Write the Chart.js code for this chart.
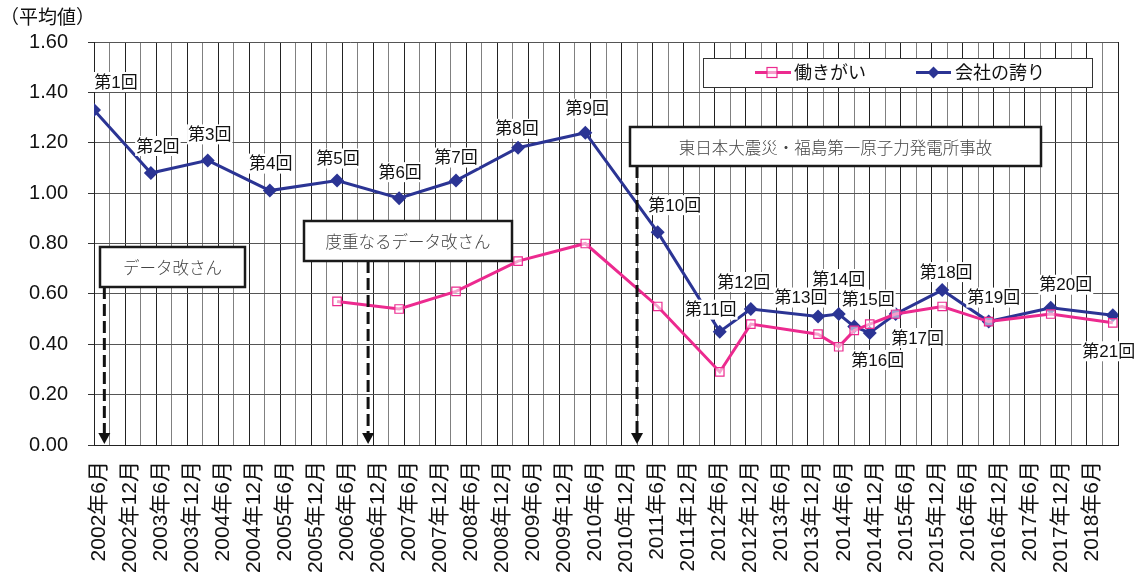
<!DOCTYPE html>
<html>
<head>
<meta charset="utf-8">
<script src="https://cdn.jsdelivr.net/npm/chart.js@4.4.1/dist/chart.umd.min.js"></script>
<style>
  html, body { margin: 0; padding: 0; background: #fff; }
  #wrap { width: 1148px; height: 582px; }
</style>
</head>
<body>
<div id="wrap"><canvas id="c" width="1148" height="582"></canvas></div>
<script>
// Survey timing, in months counted from June 2002
const surveyMonths = [0, 11, 22, 34, 47, 59, 70, 82, 95, 109, 121, 127, 140, 144, 147, 150, 155, 164, 173, 185, 197];
const roundNames = ['第1回','第2回','第3回','第4回','第5回','第6回','第7回','第8回','第9回','第10回','第11回',
  '第12回','第13回','第14回','第15回','第16回','第17回','第18回','第19回','第20回','第21回'];
// 会社の誇り (average score per survey)
const prideValues = [1.33, 1.08, 1.13, 1.01, 1.05, 0.98, 1.05, 1.18, 1.24, 0.845, 0.45, 0.54, 0.51, 0.52, 0.47, 0.445, 0.52, 0.615, 0.49, 0.545, 0.515];
// 働きがい (asked from the 5th survey on)
const workValues = [null, null, null, null, 0.57, 0.54, 0.61, 0.73, 0.80, 0.55, 0.29, 0.48, 0.44, 0.39, 0.455, 0.48, 0.52, 0.55, 0.49, 0.52, 0.485];
// Half-year tick labels
const halfYearLabels = ['2002年6月','2002年12月','2003年6月','2003年12月','2004年6月','2004年12月','2005年6月','2005年12月',
  '2006年6月','2006年12月','2007年6月','2007年12月','2008年6月','2008年12月','2009年6月','2009年12月','2010年6月',
  '2010年12月','2011年6月','2011年12月','2012年6月','2012年12月','2013年6月','2013年12月','2014年6月','2014年12月',
  '2015年6月','2015年12月','2016年6月','2016年12月','2017年6月','2017年12月','2018年6月'];
const yTickValues = [0, 0.2, 0.4, 0.6, 0.8, 1.0, 1.2, 1.4, 1.6];
// Events marked with dashed arrows
const eventMonths = [2, 53, 105];
const eventTexts = ['データ改さん', '度重なるデータ改さん', '東日本大震災・福島第一原子力発電所事故'];

// Layout of the annotation boxes and round labels (pixels)
const eventBoxes = [
  { left: 100, top: 247, width: 145, height: 40 },
  { left: 304, top: 221, width: 208, height: 40 },
  { left: 630, top: 127, width: 411, height: 39 }
];
const labelOffsets = [[22,-28],[7,-27],[2,-26],[1,-27],[1,-22],[1,-26],[0,-23],[-1,-19],[2,-24],[17,-27],[-9,-22],
  [-7,-27],[-17,-19],[0,-35],[14,-27],[8,27],[22,24],[4,-18],[5,-24],[15,-23],[-4,36]];

const NAVY = '#2b3494';
const PINK = '#ec2a8f';
const LATIN = '"Liberation Sans", Arial, "Noto Sans CJK JP", sans-serif';
const CJK = '"Noto Sans CJK JP", "Liberation Sans", sans-serif';

const toPoints = vals => surveyMonths.map((m, i) => ({ x: m, y: vals[i] }));

const overlay = {
  id: 'overlay',
  afterDatasetsDraw(chart) {
    const ctx = chart.ctx;
    const xs = chart.scales.x, ys = chart.scales.y;
    const bottom = ys.getPixelForValue(0);

    // dashed arrows and their boxes
    eventMonths.forEach((m, i) => {
      const x = xs.getPixelForValue(m);
      const b = eventBoxes[i];
      ctx.save();
      ctx.strokeStyle = '#111';
      ctx.lineWidth = 3;
      ctx.setLineDash([12, 5]);
      ctx.beginPath();
      ctx.moveTo(x, b.top + b.height);
      ctx.lineTo(x, bottom - 10);
      ctx.stroke();
      ctx.setLineDash([]);
      ctx.fillStyle = '#111';
      ctx.beginPath();
      ctx.moveTo(x - 6, bottom - 12);
      ctx.lineTo(x + 6, bottom - 12);
      ctx.lineTo(x, bottom - 1);
      ctx.closePath();
      ctx.fill();

      ctx.fillStyle = '#fff';
      ctx.fillRect(b.left, b.top, b.width, b.height);
      ctx.lineWidth = 2.5;
      ctx.strokeStyle = '#1a1a1a';
      ctx.strokeRect(b.left, b.top, b.width, b.height);
      ctx.fillStyle = '#444';
      ctx.font = '300 16.5px ' + CJK;
      ctx.textAlign = 'center';
      ctx.textBaseline = 'middle';
      ctx.fillText(eventTexts[i], b.left + b.width / 2, b.top + b.height / 2 + 1);
      ctx.restore();
    });

    // round labels beside the 会社の誇り points
    const meta = chart.getDatasetMeta(1);
    ctx.save();
    ctx.font = '17px ' + LATIN;
    ctx.textAlign = 'center';
    ctx.textBaseline = 'middle';
    meta.data.forEach((pt, i) => {
      const cx = pt.x + labelOffsets[i][0];
      const cy = pt.y + labelOffsets[i][1];
      const w = ctx.measureText(roundNames[i]).width;
      ctx.fillStyle = '#fff';
      ctx.fillRect(cx - w / 2 - 1, cy - 10, w + 2, 20);
      ctx.fillStyle = '#111';
      ctx.fillText(roundNames[i], cx, cy + 1);
    });
    ctx.restore();
  },
  afterDraw(chart) {
    const ctx = chart.ctx;
    ctx.save();
    // axis title
    ctx.fillStyle = '#111';
    ctx.font = '19px ' + CJK;
    ctx.textAlign = 'left';
    ctx.textBaseline = 'middle';
    ctx.fillText('（平均値）', 0, 17);

    // legend
    ctx.fillStyle = '#fff';
    ctx.fillRect(703, 58, 389, 29);
    ctx.strokeStyle = '#333';
    ctx.lineWidth = 1;
    ctx.strokeRect(703.5, 58.5, 389, 29);
    const ly = 72.5;
    ctx.lineWidth = 3;
    ctx.strokeStyle = PINK;
    ctx.beginPath(); ctx.moveTo(755, ly); ctx.lineTo(791, ly); ctx.stroke();
    ctx.fillStyle = 'rgba(255,255,255,0.55)';
    ctx.fillRect(767, ly - 5, 10, 10);
    ctx.lineWidth = 1.2;
    ctx.strokeRect(767, ly - 5, 10, 10);
    ctx.lineWidth = 3;
    ctx.strokeStyle = NAVY;
    ctx.beginPath(); ctx.moveTo(916, ly); ctx.lineTo(951, ly); ctx.stroke();
    ctx.fillStyle = NAVY;
    ctx.beginPath();
    ctx.moveTo(933.5, ly - 6); ctx.lineTo(939.5, ly); ctx.lineTo(933.5, ly + 6); ctx.lineTo(927.5, ly);
    ctx.closePath(); ctx.fill();
    ctx.fillStyle = '#111';
    ctx.font = '18px ' + CJK;
    ctx.textBaseline = 'middle';
    ctx.fillText('働きがい', 794, ly);
    ctx.fillText('会社の誇り', 955, ly);
    ctx.restore();
  }
};

new Chart(document.getElementById('c'), {
  type: 'line',
  data: {
    datasets: [
      {
        label: '働きがい',
        data: toPoints(workValues),
        borderColor: PINK,
        borderWidth: 3,
        pointStyle: 'rect',
        pointRadius: 6,
        pointBorderWidth: 1.2,
        pointBorderColor: PINK,
        pointBackgroundColor: 'rgba(255,255,255,0.55)',
        tension: 0,
        spanGaps: false
      },
      {
        label: '会社の誇り',
        data: toPoints(prideValues),
        borderColor: NAVY,
        borderWidth: 3,
        pointStyle: 'rectRot',
        pointRadius: 7,
        pointBorderWidth: 0,
        pointBackgroundColor: NAVY,
        tension: 0
      }
    ]
  },
  options: {
    responsive: false,
    animation: false,
    devicePixelRatio: 1,
    layout: { padding: { left: 0, right: 30, top: 42, bottom: 0 } },
    plugins: { legend: { display: false }, tooltip: { enabled: false } },
    scales: {
      x: {
        type: 'linear',
        min: 0,
        max: 198,
        afterBuildTicks(scale) {
          const t = [];
          for (let m = 0; m <= 198; m += 3) t.push({ value: m });
          scale.ticks = t;
        },
        afterFit(scale) {
          scale.height = 137;
          scale.paddingLeft = 0;
          scale.paddingRight = 0;
        },
        ticks: {
          autoSkip: false,
          minRotation: 90,
          maxRotation: 90,
          padding: 16,
          labelOffset: 5,
          color: '#111',
          font: { family: LATIN, size: 21 },
          callback: v => (v % 6 === 0 && halfYearLabels[v / 6]) ? halfYearLabels[v / 6] : ''
        },
        grid: {
          drawTicks: false,
          color: ctx => (ctx.tick && ctx.tick.value % 6 === 0) ? '#222' : '#808080',
          lineWidth: 1
        },
        border: { display: true, color: '#222', width: 1 }
      },
      y: {
        min: 0,
        max: 1.6,
        afterBuildTicks(scale) { scale.ticks = yTickValues.map(v => ({ value: v })); },
        afterFit(scale) { scale.width = 94; },
        ticks: {
          padding: 20,
          color: '#111',
          font: { family: LATIN, size: 20 },
          callback: v => Number(v).toFixed(2)
        },
        grid: { color: '#555', lineWidth: 1, tickLength: 6, tickColor: '#333' },
        border: { display: true, color: '#222', width: 1 }
      }
    }
  },
  plugins: [overlay]
});
</script>
</body>
</html>
